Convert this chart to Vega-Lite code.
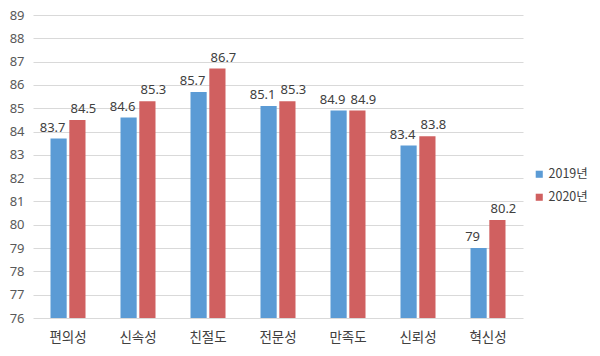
{
  "$schema": "https://vega.github.io/schema/vega-lite/v6.json",
  "width": 490,
  "height": 303,
  "autosize": "none",
  "padding": {"left": 33, "top": 15, "right": 77, "bottom": 38},
  "background": "white",
  "config": {"view": {"stroke": null}, "font": "Noto Sans CJK KR"},
  "data": {"values": [
    {"cat": "편의성", "year": "2019년", "v": 83.7},
    {"cat": "편의성", "year": "2020년", "v": 84.5},
    {"cat": "신속성", "year": "2019년", "v": 84.6},
    {"cat": "신속성", "year": "2020년", "v": 85.3},
    {"cat": "친절도", "year": "2019년", "v": 85.7},
    {"cat": "친절도", "year": "2020년", "v": 86.7},
    {"cat": "전문성", "year": "2019년", "v": 85.1},
    {"cat": "전문성", "year": "2020년", "v": 85.3},
    {"cat": "만족도", "year": "2019년", "v": 84.9},
    {"cat": "만족도", "year": "2020년", "v": 84.9},
    {"cat": "신뢰성", "year": "2019년", "v": 83.4},
    {"cat": "신뢰성", "year": "2020년", "v": 83.8},
    {"cat": "혁신성", "year": "2019년", "v": 79},
    {"cat": "혁신성", "year": "2020년", "v": 80.2}
  ]},
  "encoding": {
    "x": {"field": "cat", "type": "nominal", "sort": null,
      "scale": {"paddingInner": 0.5, "paddingOuter": 0.25},
      "axis": {"title": null, "labelAngle": 0, "domain": false, "ticks": false, "labelFontSize": 13.5, "labelColor": "#404040", "labelPadding": 12}},
    "xOffset": {"field": "year", "type": "nominal", "scale": {"paddingInner": 0.14}},
    "y": {"field": "v", "type": "quantitative",
      "scale": {"domain": [76, 89], "nice": false, "zero": false},
      "axis": {"title": null, "values": [76,77,78,79,80,81,82,83,84,85,86,87,88,89], "domain": false, "ticks": false, "labelFont": "Noto Sans", "labelFontSize": 13, "labelColor": "#595959", "labelPadding": 9, "gridColor": "#d9d9d9"}}
  },
  "layer": [
    {"mark": {"type": "bar", "clip": true},
     "encoding": {
       "y2": {"datum": 76},
       "color": {"field": "year", "type": "nominal",
         "scale": {"range": ["#5b9bd5", "#d06060"]},
         "legend": {"title": null, "orient": "none", "legendX": 500, "legendY": 153, "symbolType": "square", "symbolSize": 50, "labelFontSize": 12.5, "labelColor": "#404040", "rowPadding": 10, "symbolStrokeWidth": 0, "labelOffset": 3}}}},
    {"transform": [{"filter": "datum.year == '2019년'"}],
     "mark": {"type": "text", "baseline": "bottom", "dy": -4, "dx": -6, "font": "Noto Sans", "fontSize": 13, "color": "#404040"},
     "encoding": {"text": {"field": "v", "type": "quantitative"}}},
    {"transform": [{"filter": "datum.year == '2020년'"}],
     "mark": {"type": "text", "baseline": "bottom", "dy": -4, "dx": 6, "font": "Noto Sans", "fontSize": 13, "color": "#404040"},
     "encoding": {"text": {"field": "v", "type": "quantitative"}}}
  ]
}
